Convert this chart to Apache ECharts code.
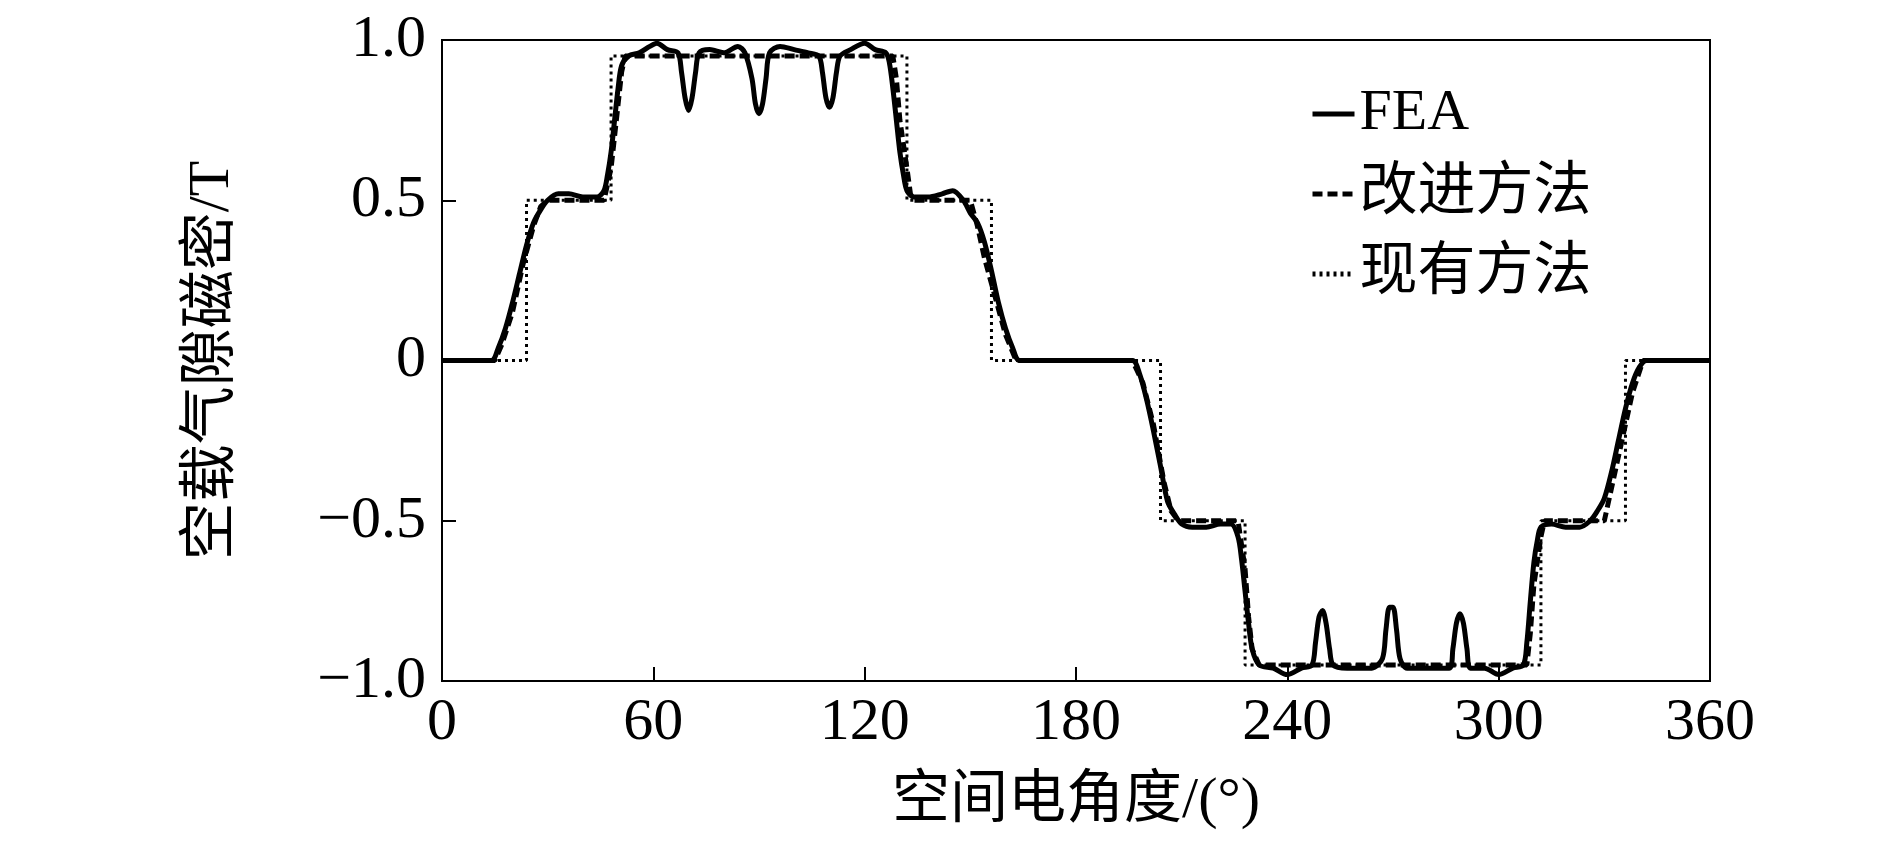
<!DOCTYPE html>
<html><head><meta charset="utf-8">
<script src="https://cdn.jsdelivr.net/npm/echarts@6/dist/echarts.min.js"></script>
<style>html,body{margin:0;padding:0;background:#fff}#c{width:1890px;height:860px}</style>
</head><body><div id="c"></div>
<script>
const seriesNames = ['FEA', '改进方法', '现有方法'];
const xTicks = [0, 60, 120, 180, 240, 300, 360];
const yTicks = [-1.0, -0.5, 0, 0.5, 1.0];
const feaData = [[0,0],[14,0],[16,0.04],[18,0.1],[20,0.18],[22,0.27],[24,0.36],[26,0.43],[28,0.47],[30,0.5],[33,0.52],[36,0.52],[40,0.51],[44,0.51],[46,0.53],[47,0.58],[48,0.65],[49,0.75],[50,0.85],[51,0.92],[53,0.95],[56,0.96],[59,0.98],[61,0.99],[64,0.97],[67,0.96],[68,0.9],[69,0.82],[70,0.78],[71,0.82],[72,0.9],[73,0.96],[76,0.97],[80,0.96],[84,0.98],[86,0.96],[88,0.88],[89,0.8],[90,0.77],[91,0.8],[92,0.88],[93,0.96],[96,0.98],[100,0.97],[104,0.96],[107,0.95],[108,0.9],[109,0.82],[110,0.79],[111,0.82],[112,0.9],[113,0.95],[116,0.97],[120,0.99],[123,0.97],[126,0.96],[127,0.93],[128,0.85],[129,0.75],[130,0.65],[131,0.58],[132,0.53],[134,0.51],[138,0.51],[142,0.52],[145,0.53],[148,0.5],[150,0.46],[152,0.43],[154,0.37],[156,0.28],[158,0.18],[160,0.1],[162,0.04],[164,0],[180,0],
[196,0],[198,-0.04],[200,-0.12],[202,-0.22],[204,-0.33],[206,-0.44],[208,-0.48],[210,-0.51],[213,-0.52],[217,-0.52],[221,-0.51],[224,-0.51],[226,-0.55],[227,-0.62],[228,-0.72],[229,-0.82],[230,-0.9],[232,-0.95],[236,-0.96],[240,-0.98],[244,-0.96],[247,-0.95],[248,-0.88],[249,-0.8],[250,-0.78],[251,-0.82],[252,-0.9],[253,-0.95],[257,-0.96],[261,-0.96],[264,-0.96],[267,-0.93],[268,-0.84],[269,-0.77],[270,-0.77],[271,-0.84],[272,-0.93],[274,-0.96],[280,-0.96],[286,-0.96],[287,-0.9],[288,-0.82],[289,-0.79],[290,-0.82],[291,-0.9],[292,-0.96],[296,-0.96],[300,-0.98],[304,-0.96],[307,-0.95],[308,-0.88],[309,-0.75],[310,-0.63],[311,-0.56],[312,-0.52],[315,-0.51],[319,-0.52],[323,-0.52],[326,-0.5],[328,-0.47],[330,-0.43],[332,-0.35],[334,-0.25],[336,-0.15],[338,-0.07],[340,-0.02],[342,0],[360,0]];
const improvedData = [[0,0],[15,0],[17,0.05],[20,0.15],[23,0.3],[26,0.42],[28,0.48],[30,0.5],[46,0.5],[48,0.6],[50,0.8],[51,0.9],[52,0.95],[128,0.95],[129,0.88],[130,0.75],[132,0.6],[133,0.52],[134,0.5],[150,0.5],[152,0.42],[154,0.32],[157,0.2],[160,0.08],[163,0],[196,0],[199,-0.07],[202,-0.2],[205,-0.38],[207,-0.47],[209,-0.5],[226,-0.5],[228,-0.65],[229,-0.8],[230,-0.9],[232,-0.95],[308,-0.95],[309,-0.85],[310,-0.7],[312,-0.55],[313,-0.5],[330,-0.5],[332,-0.4],[335,-0.25],[338,-0.1],[341,0],[360,0]];
const existingData = [[0,0],[24,0],[24,0.5],[48,0.5],[48,0.95],[132,0.95],[132,0.5],[156,0.5],[156,0],[204,0],[204,-0.5],[228,-0.5],[228,-0.95],[312,-0.95],[312,-0.5],[336,-0.5],[336,0],[360,0]];

const font = 'Liberation Serif, Noto Sans CJK SC, serif';
const chart = echarts.init(document.getElementById('c'));
const fmtY = v => v === 0 ? '0' : v.toFixed(1).replace('-', '\u2212');
chart.setOption({
  animation: false,
  grid: {left: 442, right: 180, top: 40, bottom: 179, show: true, borderColor: '#000', borderWidth: 2},
  legend: {
    left: 1305, top: 80, orient: 'vertical', itemGap: 22, itemWidth: 42, itemHeight: 20,
    itemStyle: {opacity: 0},
    lineStyle: {width: 5},
    textStyle: {fontFamily: font, fontSize: 58, color: '#000'},
    data: seriesNames
  },
  xAxis: {
    type: 'value', min: 0, max: 360, interval: 60,
    name: '空间电角度/(°)', nameLocation: 'middle', nameGap: 92,
    nameTextStyle: {fontFamily: font, fontSize: 58, color: '#000'},
    axisLine: {onZero: false, lineStyle: {color: '#000', width: 2}},
    axisTick: {inside: true, length: 14, lineStyle: {color: '#000', width: 2}},
    axisLabel: {fontFamily: font, fontSize: 60, color: '#000', margin: 12},
    splitLine: {show: false}
  },
  yAxis: {
    type: 'value', min: -1, max: 1, interval: 0.5,
    name: '空载气隙磁密/T', nameLocation: 'middle', nameGap: 200,
    nameTextStyle: {fontFamily: font, fontSize: 58, color: '#000'},
    axisLine: {onZero: false, lineStyle: {color: '#000', width: 2}},
    axisTick: {inside: true, length: 14, lineStyle: {color: '#000', width: 2}},
    axisLabel: {fontFamily: font, fontSize: 60, color: '#000', margin: 16, formatter: fmtY},
    splitLine: {show: false}
  },
  series: [
    {name: seriesNames[0], type: 'line', data: feaData, symbol: 'none', smooth: 0.3, lineStyle: {color: '#000', width: 5}, itemStyle: {color: '#000'}, z: 3},
    {name: seriesNames[1], type: 'line', data: improvedData, symbol: 'none', lineStyle: {color: '#000', width: 5, type: [10, 5]}, itemStyle: {color: '#000'}, z: 2},
    {name: seriesNames[2], type: 'line', data: existingData, symbol: 'none', lineStyle: {color: '#000', width: 3, type: [3, 4]}, itemStyle: {color: '#000'}, z: 1}
  ]
});
</script></body></html>
